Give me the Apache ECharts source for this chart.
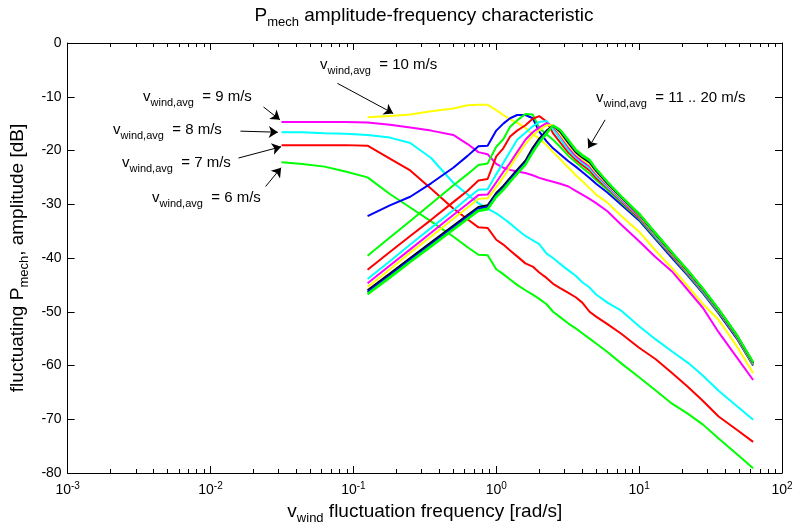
<!DOCTYPE html>
<html><head><meta charset="utf-8">
<script src="https://cdn.jsdelivr.net/npm/echarts@6/dist/echarts.min.js"></script>
<style>html,body{margin:0;padding:0;background:#fff}#c{width:797px;height:530px}</style>
</head><body><div id="c"></div>
<script>
// fluctuation frequency grid [rad/s]
const freq = [0.0314, 0.044, 0.0628, 0.088, 0.1257, 0.18, 0.25, 0.35, 0.5, 0.63, 0.75, 0.87, 1.0, 1.12, 1.25, 1.4, 1.6, 1.8, 2.0, 2.25, 2.5, 2.8, 3.2, 3.6, 4.0, 4.5, 5.0, 6.0, 7.5, 10, 13, 17, 22, 28, 36, 48, 62.8];
// amplitude [dB] per average wind speed
const v6  = [-22.2,-22.5,-23.0,-23.9,-25.0,-28.1,-30.6,-33.2,-36.0,-38.0,-39.4,-39.5,-42.1,-43.0,-44.0,-45.0,-46.0,-46.8,-47.6,-48.6,-50.0,-51.0,-52.2,-53.1,-54.0,-55.0,-55.9,-57.5,-59.6,-62.2,-64.6,-67.1,-69.0,-71.0,-73.6,-76.4,-79.1];
const v7  = [-19.0,-19.0,-19.0,-19.0,-19.1,-21.5,-23.7,-27.1,-30.8,-32.8,-34.3,-34.4,-36.6,-37.5,-38.6,-39.7,-41.0,-41.6,-42.7,-43.7,-44.8,-45.6,-46.5,-47.3,-48.3,-50.0,-50.9,-52.3,-54.1,-56.7,-58.8,-61.4,-64.0,-66.6,-69.5,-71.9,-74.2];
const v8  = [-16.6,-16.6,-16.8,-16.9,-17.1,-17.6,-18.6,-21.4,-26.0,-28.2,-29.8,-30.8,-31.7,-32.6,-33.6,-34.7,-35.9,-36.7,-37.4,-39.2,-40.0,-41.1,-42.3,-43.3,-44.5,-45.5,-46.8,-48.3,-49.8,-52.7,-55.1,-57.4,-59.5,-61.9,-64.7,-67.5,-70.1];
const v9  = [-14.7,-14.7,-14.7,-14.7,-14.8,-15.2,-15.7,-16.3,-17.1,-18.8,-20.3,-20.7,-22.5,-23.2,-23.6,-23.9,-24.2,-24.6,-25.1,-25.5,-25.8,-26.2,-26.7,-27.5,-28.2,-29.0,-29.8,-31.3,-33.8,-36.9,-39.8,-42.5,-46.0,-49.3,-53.8,-58.4,-62.7];
const v10 = [null,null,null,null,-13.8,-13.6,-13.3,-12.7,-12.2,-11.6,-11.5,-11.5,-12.5,-13.4,-14.2,-14.8,-15.8,-17.0,-17.8,-19.0,-20.3,-21.6,-23.2,-24.6,-25.7,-27.0,-28.2,-29.7,-32.2,-35.1,-38.6,-41.9,-45.3,-48.6,-51.5,-56.3,-61.4];
const v11 = [null,null,null,null,-32.2,-30.2,-28.6,-26.1,-23.2,-21.0,-19.2,-19.1,-16.3,-15.0,-14.0,-13.4,-13.4,-14.0,-16.5,-18.3,-19.6,-20.7,-22.0,-23.0,-24.0,-25.1,-26.2,-27.8,-30.1,-33.0,-36.5,-40.0,-43.3,-46.6,-50.3,-54.9,-60.0];
const v12 = [null,null,null,null,-39.6,-36.2,-33.1,-29.9,-26.5,-24.4,-22.7,-22.4,-19.3,-17.9,-15.6,-14.4,-13.2,-13.3,-15.8,-17.0,-18.0,-19.3,-21.0,-22.2,-23.2,-24.3,-25.5,-27.3,-29.7,-32.7,-36.2,-39.7,-43.1,-46.4,-50.1,-54.7,-59.9];
const v13 = [null,null,null,null,-42.2,-38.9,-35.9,-32.9,-29.6,-27.5,-25.6,-25.3,-21.1,-19.6,-17.4,-16.3,-15.3,-14.1,-13.6,-14.6,-16.8,-18.5,-20.4,-21.7,-22.7,-23.7,-25.1,-27.0,-29.5,-32.5,-36.0,-39.6,-42.9,-46.2,-50.0,-54.6,-59.8];
const v14 = [null,null,null,null,-43.9,-40.6,-37.5,-34.4,-31.1,-28.9,-27.3,-27.2,-24.4,-22.3,-20.2,-18.0,-16.7,-15.5,-14.7,-14.5,-16.0,-17.9,-19.9,-21.3,-22.3,-23.3,-24.7,-26.8,-29.3,-32.3,-35.9,-39.4,-42.8,-46.1,-49.9,-54.5,-59.7];
const v15 = [null,null,null,null,-44.7,-41.4,-38.4,-35.3,-32.0,-29.9,-28.3,-28.2,-25.9,-24.0,-22.3,-20.3,-18.0,-16.6,-15.7,-14.9,-15.5,-17.2,-19.4,-21.0,-22.0,-22.9,-24.4,-26.5,-29.1,-32.2,-35.7,-39.3,-42.7,-46.0,-49.8,-54.5,-59.6];
const v16 = [null,null,null,null,-45.4,-42.1,-39.0,-36.0,-32.7,-30.6,-29.0,-28.9,-26.8,-25.0,-23.0,-21.0,-18.8,-17.2,-16.2,-15.3,-15.3,-16.9,-19.0,-20.6,-21.6,-22.6,-24.1,-26.3,-28.9,-32.0,-35.6,-39.2,-42.6,-45.9,-49.7,-54.4,-59.6];
const v17 = [null,null,null,null,-46.0,-42.9,-40.0,-37.1,-34.0,-32.0,-30.5,-30.2,-27.9,-26.6,-25.1,-23.6,-21.9,-19.5,-17.8,-16.3,-15.4,-16.5,-18.6,-20.3,-21.3,-22.2,-23.8,-26.1,-28.7,-31.9,-35.5,-39.1,-42.5,-45.8,-49.6,-54.3,-59.5];
const v18 = [null,null,null,null,-46.3,-43.2,-40.3,-37.4,-34.3,-32.3,-30.8,-30.5,-28.2,-26.9,-25.4,-23.9,-22.2,-19.9,-18.1,-16.5,-15.4,-16.3,-18.4,-20.1,-21.1,-22.0,-23.7,-26.0,-28.7,-31.8,-35.4,-39.0,-42.4,-45.8,-49.6,-54.3,-59.5];
const v19 = [null,null,null,null,-46.6,-43.5,-40.6,-37.7,-34.6,-32.6,-31.1,-30.8,-28.5,-27.2,-25.7,-24.2,-22.5,-20.2,-18.4,-16.7,-15.4,-16.2,-18.2,-20.0,-21.0,-21.9,-23.5,-25.9,-28.6,-31.8,-35.4,-39.0,-42.4,-45.7,-49.5,-54.2,-59.4];
const v20 = [null,null,null,null,-46.8,-43.7,-40.8,-37.9,-34.8,-32.8,-31.3,-31.0,-28.7,-27.4,-25.9,-24.4,-22.7,-20.4,-18.6,-16.9,-15.3,-16.1,-18.0,-19.8,-20.8,-21.7,-23.4,-25.8,-28.5,-31.7,-35.3,-38.9,-42.3,-45.7,-49.5,-54.2,-59.4];

const windSpeeds = ['6','7','8','9','10','11','12','13','14','15','16','17','18','19','20'];
const seriesValues = [v6,v7,v8,v9,v10,v11,v12,v13,v14,v15,v16,v17,v18,v19,v20];
const seriesColors = ['#00ff00','#ff0000','#00ffff','#ff00ff','#ffff00','#0000ff','#00ff00','#ff0000','#00ffff','#ff00ff','#ffff00','#000000','#0000ff','#00ff00','#00ff00'];

// tick labels
const xTickExponents = [-3,-2,-1,0,1,2];
const yTickValues = [0,-10,-20,-30,-40,-50,-60,-70,-80];

// annotations: arrow from (x,y) to (x,y) in data units, and label texts
const annotTexts = ['= 9 m/s','= 8 m/s','= 7 m/s','= 6 m/s','= 10 m/s','= 11 .. 20 m/s'];
const annotArrows = [
  [[0.0235,-11.9],[0.0306,-14.3]],
  [[0.0162,-16.4],[0.0296,-16.6]],
  [[0.0157,-21.4],[0.0312,-19.3]],
  [[0.0243,-26.7],[0.0312,-23.2]],
  [[0.0773,-7.5],[0.19,-13.1]],
  [[5.78,-14.3],[4.40,-19.6]]
];
const annotPos = [[143,97],[113,130],[122,163],[152,198],[320,65],[596,98]];

const FF = "'Liberation Sans', Arial, Helvetica, sans-serif";
const minorLog = [];
for (let d = -3; d < 2; d++) for (let k = 2; k <= 9; k++) minorLog.push(d + Math.log10(k));

const chart = echarts.init(document.getElementById('c'), null, {renderer:'canvas'});

const lineSeries = seriesValues.map((vals, i) => ({
  name: windSpeeds[i] + ' m/s',
  type: 'line',
  xAxisIndex: 0, yAxisIndex: 0,
  data: freq.map((f, j) => vals[j] == null ? null : [f, vals[j]]).filter(p => p),
  showSymbol: false, symbol: 'none', silent: true, animation: false,
  lineStyle: {color: seriesColors[i], width: 2},
  itemStyle: {color: seriesColors[i]},
  z: 2 + i * 0.01
}));

const arrowSeries = {
  type: 'lines', coordinateSystem: 'cartesian2d', xAxisIndex: 0, yAxisIndex: 0,
  symbol: ['none','arrow'], symbolSize: 9, silent: true, animation: false,
  lineStyle: {color: '#000', width: 1, opacity: 1},
  data: annotArrows.map(a => ({coords: a})), z: 5
};

const annRich = {
  v: {fontSize: 15, fontFamily: FF, color: '#000'},
  s: {fontSize: 11, fontFamily: FF, color: '#000', padding: [12,0,0,0]}
};

const graphics = annotTexts.map((t, i) => ({
  type: 'text', x: annotPos[i][0], y: annotPos[i][1], silent: true,
  style: {text: '{v|v}{s|wind,avg}{v|  ' + t + '}', rich: annRich, align: 'left', verticalAlign: 'middle', textAlign: 'left', textVerticalAlign: 'middle', fill: '#000'}
}));
graphics.push({
  type: 'text', x: 424, y: 16, silent: true,
  style: {text: '{a|P}{s|mech}{a| amplitude-frequency characteristic}', align: 'center', verticalAlign: 'middle', textAlign: 'center', textVerticalAlign: 'middle',
    rich: {a: {fontSize: 19, fontFamily: FF, color: '#000'}, s: {fontSize: 13, fontFamily: FF, color: '#000', padding: [13,0,0,0]}}}
});

const nameRich = {
  m: {fontSize: 19, fontFamily: FF, color: '#000'},
  s: {fontSize: 13, fontFamily: FF, color: '#000', padding: [13,0,0,0]}
};

const baseLine = {show: true, onZero: false, lineStyle: {color: '#000', width: 1}};

const option = {
  backgroundColor: '#fff',
  animation: false,
  grid: {left: 67, right: 15, top: 43, bottom: 57, containLabel: false},
  xAxis: [
    {type: 'log', logBase: 10, min: 0.001, max: 100, position: 'bottom',
     axisLine: baseLine,
     axisTick: {show: true, inside: true, length: 7, lineStyle: {color: '#000'}},
     axisLabel: {show: true, margin: 8, color: '#000',
       formatter: v => { const e = Math.round(Math.log10(v)); return xTickExponents.indexOf(e) >= 0 ? '{b|10}{p|' + e + '}' : ''; },
       rich: {b: {fontSize: 14, fontFamily: FF, color: '#000'}, p: {fontSize: 10, fontFamily: FF, color: '#000', padding: [0,0,9,0]}}},
     splitLine: {show: false}, minorTick: {show: false},
     name: '{m|v}{s|wind}{m| fluctuation frequency [rad/s]}', nameLocation: 'middle', nameGap: 24,
     nameTextStyle: {rich: nameRich}},
    {type: 'log', logBase: 10, min: 0.001, max: 100, position: 'top',
     axisLine: baseLine,
     axisTick: {show: true, inside: true, length: 7, lineStyle: {color: '#000'}},
     axisLabel: {show: false}, splitLine: {show: false}},
    {type: 'value', min: -3, max: 2, position: 'bottom',
     axisLine: {show: false, onZero: false},
     axisTick: {show: true, inside: true, length: 4, customValues: minorLog, lineStyle: {color: '#000'}},
     axisLabel: {show: false}, splitLine: {show: false}},
    {type: 'value', min: -3, max: 2, position: 'top',
     axisLine: {show: false, onZero: false},
     axisTick: {show: true, inside: true, length: 4, customValues: minorLog, lineStyle: {color: '#000'}},
     axisLabel: {show: false}, splitLine: {show: false}}
  ],
  yAxis: [
    {type: 'value', min: -80, max: 0, interval: 10, position: 'left',
     axisLine: baseLine,
     axisTick: {show: true, inside: true, length: 7, lineStyle: {color: '#000'}},
     axisLabel: {show: true, color: '#000', fontSize: 14, fontFamily: FF, margin: 6,
       formatter: v => yTickValues.indexOf(v) >= 0 ? String(v) : ''},
     splitLine: {show: false},
     name: '{m|fluctuating P}{s|mech}{m|, amplitude [dB]}', nameLocation: 'middle', nameGap: 31, nameRotate: 90,
     nameTextStyle: {rich: nameRich}},
    {type: 'value', min: -80, max: 0, interval: 10, position: 'right',
     axisLine: baseLine,
     axisTick: {show: true, inside: true, length: 7, lineStyle: {color: '#000'}},
     axisLabel: {show: false}, splitLine: {show: false}}
  ],
  series: lineSeries.concat([arrowSeries]),
  graphic: graphics
};
chart.setOption(option);
</script></body></html>
